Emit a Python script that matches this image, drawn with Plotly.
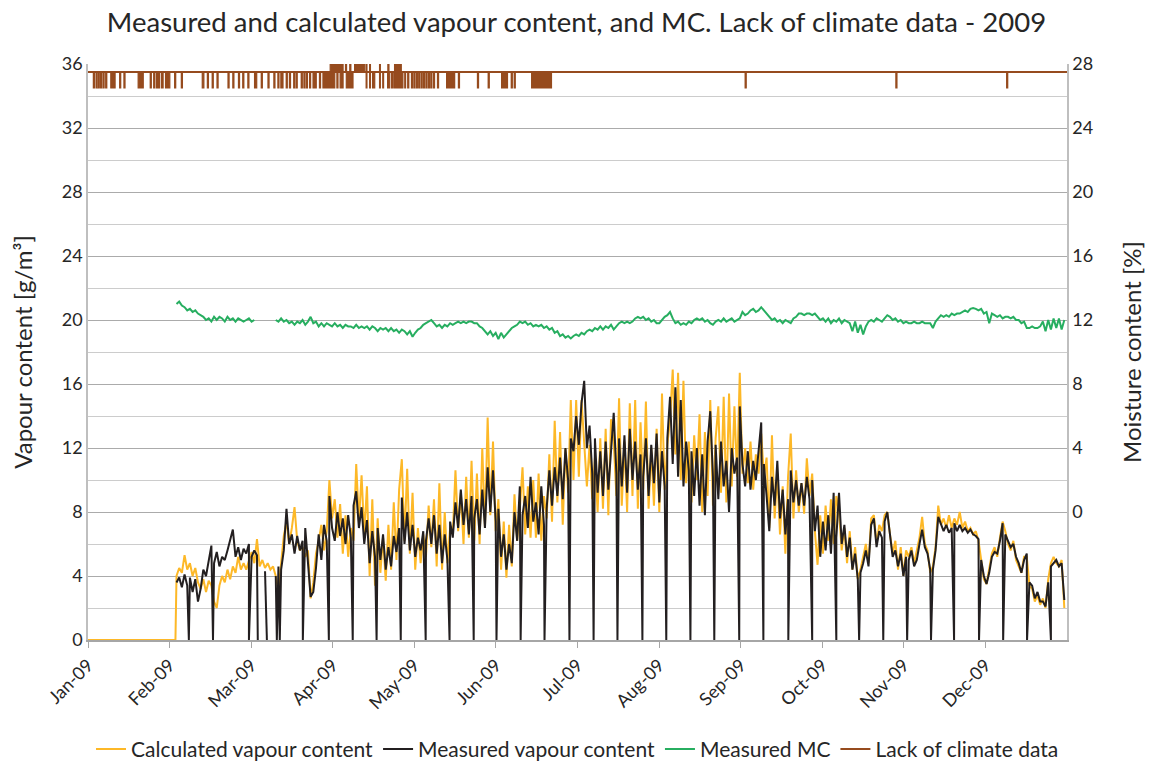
import pandas as pd
import plotly.graph_objects as go

# ---- data ----
YEAR_START = pd.Timestamp('2009-01-01')

# day numbers counted from 1 Jan 2009 (0 = 1 Jan)
days = list(range(33, 365))

calc_zero_days = [0, 32.6]
calc_zero_values = [0.0, 0.0]

calc_vapour = [
    4.0, 4.5, 4.2, 5.3, 4.4, 4.8, 4.0, 4.5, 3.6, 3.2,
    3.8, 3.0, 3.7, 3.4, 2.4, 2.0, 3.4, 4.0, 3.6, 4.4,
    3.8, 4.6, 4.2, 5.2, 4.4, 4.8, 4.4, 5.0, 5.5, 4.8,
    6.3, 4.6, 5.0, 4.5, 4.8, 4.4, 4.6, 4.0, 3.1, 4.8,
    6.5, 7.4, 6.0, 7.0, 8.3, 6.2, 5.6, 5.8, 5.2, 5.6,
    2.6, 3.6, 5.4, 6.2, 7.2, 5.6, 6.8, 10.0, 7.6, 8.8,
    6.4, 8.5, 5.4, 7.8, 5.2, 7.0, 6.2, 11.0, 7.4, 10.3,
    6.6, 9.6, 4.0, 8.8, 3.4, 7.6, 4.2, 6.4, 3.7, 7.2,
    4.4, 8.6, 5.0, 9.4, 11.3, 6.2, 10.7, 5.4, 9.2, 4.4,
    7.0, 4.8, 6.6, 5.2, 8.4, 5.8, 8.8, 4.6, 9.8, 4.4,
    8.0, 4.8, 7.0, 6.6, 10.6, 6.8, 9.2, 6.0, 10.2, 6.4,
    11.2, 6.2, 10.4, 6.0, 12.0, 7.0, 13.9, 7.8, 12.4, 6.8,
    8.8, 4.4, 7.4, 3.9, 7.2, 4.6, 9.1, 6.2, 8.2, 10.8,
    6.6, 9.6, 6.4, 10.0, 6.4, 10.4, 6.2, 9.0, 7.6, 11.6,
    7.4, 13.7, 8.6, 13.0, 7.2, 12.0, 9.2, 15.0, 10.0, 15.0,
    10.2, 15.0, 12.6, 9.6, 12.2, 8.8, 11.4, 8.0, 12.6, 8.2,
    13.2, 7.8, 13.8, 12.4, 9.0, 15.1, 8.4, 12.4, 8.0, 14.8,
    9.0, 15.0, 8.2, 13.6, 9.4, 14.9, 8.2, 12.0, 8.4, 13.2,
    8.0, 15.4, 9.4, 12.2, 13.8, 16.9, 11.6, 16.7, 10.0, 16.2,
    9.8, 12.4, 8.6, 12.8, 10.0, 14.1, 8.0, 13.0, 9.0, 15.0,
    8.4, 12.6, 14.6, 9.2, 15.2, 8.6, 15.4, 9.6, 14.6, 10.2,
    16.7, 10.4, 12.0, 9.8, 12.4, 9.4, 11.6, 10.4, 12.9, 10.2,
    11.4, 7.0, 12.8, 7.6, 10.4, 6.6, 9.6, 5.4, 10.2, 12.9,
    7.6, 10.6, 8.0, 9.8, 7.9, 11.35, 9.0, 10.4, 6.8, 4.7,
    7.8, 5.4, 8.4, 6.2, 8.8, 6.0, 9.0, 8.0, 5.6, 7.0,
    4.8, 6.8, 4.4, 5.8, 3.8, 4.4, 5.2, 6.0, 4.8, 7.6,
    7.8, 6.0, 7.2, 6.8, 7.8, 8.0, 6.6, 5.4, 6.2, 4.4,
    5.8, 4.0, 5.6, 5.2, 5.8, 4.8, 5.6, 6.4, 7.7, 6.0,
    5.6, 4.2, 4.6, 5.8, 8.4, 7.2, 7.6, 7.0, 7.8, 7.0,
    7.6, 7.2, 8.0, 7.0, 7.4, 6.8, 7.0, 6.6, 6.8, 6.2,
    5.0, 3.8, 3.5, 4.4, 5.4, 5.8, 5.2, 6.4, 7.4, 6.8,
    6.0, 5.6, 6.2, 5.0, 4.6, 4.2, 5.2, 5.2, 3.4, 3.2,
    2.4, 2.8, 2.2, 2.6, 2.0, 3.8, 4.8, 5.2, 4.8, 4.6,
    5.0, 2.0,
]

meas_vapour = [
    3.6, 3.9, 3.3, 4.1, 3.4, 3.9, 3.0, 3.8, 2.4, 3.2,
    4.4, 4.0, 5.0, 5.9, 4.8, 5.5, 4.6, 5.2, 5.0, 5.6,
    6.3, 6.9, 5.2, 5.8, 5.0, 5.7, 5.4, 6.0, 5.2, 5.6,
    5.3, None, None, 4.3, None, None, None, 4.0, 4.6, 4.4,
    5.6, 8.2, 6.0, 6.6, 5.4, 6.5, 5.6, 6.2, 7.0, 5.0,
    2.7, 3.0, 4.5, 6.6, 5.0, 7.2, 6.2, 9.0, 7.0, 6.2,
    8.0, 6.5, 7.6, 6.0, 7.8, 6.4, 8.4, 9.3, 7.0, 8.3,
    6.0, 7.5, 4.8, 6.8, 5.2, 7.0, 5.0, 6.6, 4.4, 5.8,
    4.6, 6.5, 5.5, 7.0, 8.9, 6.0, 8.0, 5.6, 7.2, 5.2,
    6.4, 5.6, 6.8, 6.2, 7.6, 6.0, 7.8, 5.4, 7.2, 4.8,
    6.6, 5.0, 7.4, 6.4, 8.6, 7.0, 9.4, 7.2, 8.8, 6.6,
    9.0, 7.6, 8.8, 6.6, 9.4, 7.0, 10.8, 8.0, 10.6, 7.4,
    8.2, 5.2, 6.6, 4.4, 6.0, 4.8, 8.0, 6.2, 9.6, 7.8,
    9.0, 7.0, 10.2, 7.4, 8.6, 6.6, 9.6, 7.2, 8.2, 10.6,
    8.4, 10.8, 9.0, 11.4, 8.8, 12.0, 10.0, 12.6, 11.8, 14.0,
    12.2, 14.8, 16.2, 12.0, 13.4, 10.4, 12.6, 9.2, 11.8, 9.0,
    12.4, 9.4, 12.0, 14.2, 10.4, 12.6, 9.6, 12.8, 9.2, 13.2,
    10.0, 12.4, 9.4, 11.6, 10.2, 12.6, 9.0, 12.2, 9.8, 12.9,
    8.6, 11.8, 9.6, 12.6, 15.2, 11.0, 15.8, 10.2, 15.0, 9.6,
    12.4, 10.6, 11.8, 9.0, 12.0, 8.4, 11.6, 7.8, 12.4, 14.3,
    10.2, 12.2, 8.8, 12.4, 9.6, 11.2, 8.0, 12.0, 10.4, 11.4,
    14.6, 11.0, 9.6, 11.8, 9.4, 11.2, 10.0, 12.0, 13.6, 11.0,
    9.0, 6.8, 10.2, 8.4, 11.2, 7.6, 9.4, 6.6, 8.8, 10.6,
    8.6, 10.0, 8.4, 9.8, 8.4, 10.2, 8.8, 10.0, 6.8, 8.4,
    5.2, 7.4, 5.6, 7.8, 5.4, 9.2, 6.4, 9.2, 6.0, 7.2,
    5.2, 6.4, 4.4, 5.4, 3.8, 4.2, 4.8, 5.6, 4.6, 7.2,
    7.6, 5.8, 6.8, 6.4, 7.4, 8.0, 6.4, 5.2, 5.6, 4.6,
    5.4, 4.0, 5.2, 5.0, 5.6, 4.6, 5.0, 6.0, 6.9, 5.8,
    5.4, 4.4, 4.4, 5.6, 7.7, 7.2, 6.8, 7.2, 6.7, 7.0,
    7.3, 6.8, 7.2, 6.8, 7.0, 6.7, 6.9, 6.6, 6.5, 6.3,
    5.0, 4.0, 3.5, 4.2, 5.2, 5.5, 5.4, 6.2, 7.3, 6.6,
    6.2, 5.8, 6.0, 5.2, 4.8, 4.2, 5.0, 5.4, 3.6, 3.4,
    2.6, 3.0, 2.4, 2.4, 2.1, 3.6, 4.6, 4.8, 5.0, 4.6,
    4.8, 2.5,
]

# moments where the measured vapour logger dropped to zero
meas_drop_days = [
    37.6, 46.6, 60.0, 63.3, 66.7, 70.4, 71.5, 80.1, 89.8, 98.7,
    107.6, 116.6, 125.9, 134.8, 143.8, 152.3, 161.3, 170.2, 179.5, 188.5,
    197.4, 206.7, 215.6, 224.6, 233.5, 242.8, 251.8, 261.1, 270.0, 279.0,
    287.5, 296.5, 305.4, 314.3, 322.9, 332.2, 341.2, 350.1, 359.0,
]

# measured moisture content [%], right axis
meas_mc = [
    13.0, 13.15, 12.9, 12.8, 12.6, 12.7, 12.5, 12.6, 12.4, 12.3,
    12.2, 12.0, 12.1, 11.9, 12.2, 12.0, 12.2, 12.1, 11.9, 12.2,
    12.0, 12.1, 11.9, 12.1, 12.0, 11.9, 12.0, 12.1, 11.9, 12.0,
    None, None, None, None, None, None, None, 12.0, 11.9, 12.1,
    11.9, 12.0, 11.8, 11.9, 11.7, 11.9, 11.8, 12.0, 11.7, 11.9,
    12.2, 11.8, 11.9, 11.6, 11.8, 11.6, 11.8, 11.7, 11.6, 11.8,
    11.6, 11.7, 11.5, 11.7, 11.6, 11.6, 11.5, 11.7, 11.5, 11.6,
    11.5, 11.6, 11.4, 11.6, 11.5, 11.3, 11.5, 11.4, 11.5, 11.3,
    11.5, 11.3, 11.4, 11.2, 11.4, 11.3, 11.1, 11.3, 10.95, 11.2,
    11.4, 11.5, 11.7, 11.8, 11.9, 12.0, 11.8, 11.6, 11.7, 11.5,
    11.7, 11.6, 11.8, 11.7, 11.8, 11.9, 11.8, 11.9, 11.8, 11.9,
    11.9, 11.8, 11.8, 11.6, 11.5, 11.3, 11.1, 11.3, 11.0, 11.2,
    10.8, 11.2, 10.9, 11.1, 11.3, 11.5, 11.6, 11.7, 11.9, 11.8,
    11.9, 11.7, 11.8, 11.6, 11.7, 11.6, 11.7, 11.5, 11.6, 11.4,
    11.5, 11.2, 11.3, 11.0, 11.1, 10.9, 11.0, 10.85, 11.0, 11.1,
    11.0, 11.2, 11.1, 11.3, 11.4, 11.3, 11.5, 11.4, 11.6, 11.4,
    11.6, 11.5, 11.7, 11.4, 11.6, 11.8, 11.9, 11.8, 11.9, 11.8,
    11.9, 12.1, 12.2, 12.1, 12.2, 12.0, 12.1, 11.9, 12.0, 11.8,
    11.8, 12.0, 12.2, 12.3, 12.5, 12.1, 11.8, 11.9, 11.7, 11.8,
    11.7, 11.9, 11.8, 12.0, 12.1, 12.0, 12.1, 11.9, 12.0, 11.8,
    11.7, 11.9, 12.0, 11.9, 12.1, 11.9, 12.0, 12.1, 11.9, 12.0,
    12.1, 12.5, 12.3, 12.4, 12.6, 12.7, 12.5, 12.6, 12.8, 12.6,
    12.4, 12.2, 12.0, 12.1, 11.9, 12.0, 11.8, 12.0, 11.9, 11.8,
    12.1, 12.2, 12.4, 12.4, 12.3, 12.4, 12.4, 12.3, 12.4, 12.2,
    12.0, 12.1, 11.9, 12.1, 11.8, 12.0, 11.9, 12.1, 11.8, 12.0,
    11.9, 11.8, 11.3, 11.9, 11.2, 11.7, 11.1, 11.6, 11.9, 12.0,
    11.9, 12.1, 12.0, 11.9, 12.1, 12.3, 12.2, 12.0, 12.1, 11.9,
    12.0, 11.8, 11.9, 11.8, 11.8, 11.9, 11.8, 11.8, 11.9, 11.8,
    11.8, 11.8, 11.5, 11.9, 12.1, 12.3, 12.2, 12.3, 12.2, 12.4,
    12.3, 12.4, 12.4, 12.5, 12.6, 12.5, 12.7, 12.75, 12.7, 12.6,
    12.7, 12.4, 12.5, 11.8, 12.4, 12.3, 12.2, 12.3, 12.1, 12.2,
    12.2, 12.1, 12.2, 12.0, 12.0, 11.8, 11.9, 11.5, 11.5, 11.6,
    11.5, 11.5, 11.6, 11.9, 11.3, 12.0, 11.4, 12.1, 11.5, 12.1,
    11.4, 12.0,
]

# lack of climate data flag (right axis levels)
lack_base, lack_low_level, lack_high_level = 27.5, 26.5, 28.0
lack_low = [
    (2.0, 2.4), (3.0, 3.4), (3.8, 4.2), (4.7, 5.1), (5.6, 6.0), (6.6, 7.0),
    (8.5, 10.1), (11.8, 12.2), (13.4, 13.8), (18.7, 20.6), (23.2, 23.6),
    (24.5, 24.9), (25.5, 25.9), (26.3, 26.7), (27.4, 28.0), (28.9, 30.5),
    (32.3, 32.7), (34.8, 35.2), (42.6, 43.2), (44.5, 44.9), (46.3, 46.7),
    (48.1, 48.5), (52.2, 52.6), (54.0, 54.4), (56.1, 56.5), (57.7, 58.1),
    (59.6, 60.0), (62.1, 62.9), (64.6, 65.0), (67.1, 67.5), (69.3, 69.7),
    (70.8, 71.2), (71.9, 72.7), (73.9, 74.3), (75.1, 75.5), (76.7, 77.1),
    (77.6, 78.0), (79.5, 79.9), (80.5, 80.9), (81.4, 81.8), (82.6, 83.0),
    (83.9, 85.1), (86.3, 86.7), (87.6, 92.0), (92.8, 93.2), (94.0, 95.1),
    (96.3, 98.8), (103.7, 104.0), (105.0, 105.3), (106.1, 106.9),
    (108.7, 109.0), (109.9, 110.2), (111.7, 112.5), (113.2, 113.5),
    (114.0, 117.4), (118.1, 118.4), (119.2, 119.6), (120.6, 121.0),
    (121.5, 121.9), (122.4, 122.8), (123.3, 123.7), (124.2, 124.6),
    (125.1, 125.5), (126.0, 126.4), (126.9, 127.3), (127.8, 128.2),
    (128.8, 129.2), (130.3, 130.7), (133.7, 136.7), (138.1, 138.5),
    (145.2, 145.6), (149.2, 149.6), (154.2, 156.4), (157.8, 158.2),
    (158.9, 159.3), (165.4, 172.8), (245.0, 245.4), (301.2, 301.6),
    (342.5, 342.9),
]
lack_high = [
    (90.3, 95.1), (96.0, 96.4), (97.6, 98.0), (99.4, 103.2), (103.7, 104.0),
    (105.0, 105.3), (108.7, 109.0), (111.8, 112.2), (114.3, 116.8),
]

month_labels = ['Jan-09', 'Feb-09', 'Mar-09', 'Apr-09', 'May-09', 'Jun-09',
                'Jul-09', 'Aug-09', 'Sep-09', 'Oct-09', 'Nov-09', 'Dec-09']


def to_dates(day_numbers):
    return [None if d is None else YEAR_START + pd.Timedelta(days=float(d)) for d in day_numbers]


# calculated: zero until the logger starts, then daily values
calc = pd.Series(calc_zero_values + calc_vapour, index=calc_zero_days + days, dtype=float)

# measured: daily values plus the zero drops
meas = pd.concat([
    pd.Series(meas_vapour, index=days, dtype=float),
    pd.Series(0.0, index=meas_drop_days),
]).sort_index()

mc = pd.Series(meas_mc, index=days, dtype=float)

# lack periods drawn as small filled blocks off the base line
block_x, block_y = [], []
for periods, level in ((lack_low, lack_low_level), (lack_high, lack_high_level)):
    for s, e in periods:
        block_x += [s, s, e, e, s, None]
        block_y += [lack_base, level, level, lack_base, lack_base, None]

BROWN = '#964B1E'

fig = go.Figure()

fig.add_trace(go.Scatter(
    x=to_dates(calc.index), y=calc.values, name='Calculated vapour content',
    mode='lines', line=dict(color='#FDB827', width=2),
))
fig.add_trace(go.Scatter(
    x=to_dates(meas.index), y=meas.values, name='Measured vapour content',
    mode='lines', line=dict(color='#231F20', width=2),
))
fig.add_trace(go.Scatter(
    x=to_dates(mc.index), y=mc.values, name='Measured MC',
    mode='lines', line=dict(color='#27AE60', width=2), yaxis='y2',
))
fig.add_trace(go.Scatter(
    x=to_dates([0, 365]), y=[lack_base, lack_base], name='Lack of climate data',
    mode='lines', line=dict(color=BROWN, width=2), yaxis='y2', legendgroup='lack',
))
fig.add_trace(go.Scatter(
    x=to_dates(block_x), y=block_y, name='Lack of climate data',
    mode='lines', fill='toself', fillcolor=BROWN, line=dict(color=BROWN, width=1.2),
    yaxis='y2', legendgroup='lack', showlegend=False,
))

tick_dates = to_dates([k * 365 / 12 for k in range(12)])

fig.update_layout(
    width=1153, height=763,
    margin=dict(l=88, r=86, t=64, b=123, autoexpand=False),
    plot_bgcolor='white', paper_bgcolor='white',
    font=dict(family='Lato, sans-serif', size=17, color='#262626'),
    title=dict(
        text='Measured and calculated vapour content, and MC. Lack of climate data - 2009',
        x=0.5, xanchor='center', yref='container', y=0.971, yanchor='middle',
        font=dict(size=27.5, color='#262626'),
    ),
    xaxis=dict(
        type='date', range=[YEAR_START, YEAR_START + pd.Timedelta(days=365)],
        tickvals=tick_dates, ticktext=month_labels, tickangle=-45,
        showgrid=False, showline=True, linecolor='#a6a6a6', linewidth=1.5,
        ticks='outside', tickcolor='#a6a6a6', ticklen=6, tickfont=dict(size=18),
    ),
    yaxis=dict(
        range=[0, 36], tickvals=list(range(0, 37, 4)),
        showgrid=True, gridcolor='#ababab', gridwidth=1.2,
        minor=dict(tickvals=list(range(2, 36, 4)), showgrid=True, gridcolor='#cccccc', gridwidth=1.2),
        showline=True, linecolor='#bfbfbf', linewidth=1.5, zeroline=False,
        title=dict(text='Vapour content [g/m³]', font=dict(size=24), standoff=22),
        tickfont=dict(size=18),
    ),
    yaxis2=dict(
        overlaying='y', side='right', range=[-8, 28], tickvals=list(range(0, 29, 4)),
        showgrid=False, showline=True, linecolor='#bfbfbf', linewidth=1.5, zeroline=False,
        title=dict(text='Moisture content [%]', font=dict(size=24), standoff=32),
        tickfont=dict(size=18),
    ),
    legend=dict(
        orientation='h', x=0.5, xanchor='center',
        yref='container', y=0.018, yanchor='middle',
        font=dict(size=21), itemwidth=30, tracegroupgap=0,
    ),
    showlegend=True,
)

fig.write_html("out.html", config={'displayModeBar': False},
               post_script="document.body.style.margin='0';")
